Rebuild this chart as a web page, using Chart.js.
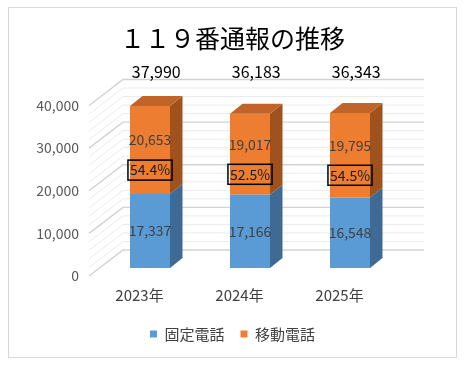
<!DOCTYPE html>
<html>
<head>
<meta charset="utf-8">
<script src="https://cdn.jsdelivr.net/npm/chart.js@4.4.1/dist/chart.umd.min.js"></script>
<style>
  html, body { margin: 0; padding: 0; background: #fff; }
</style>
</head>
<body>
<canvas id="chart" width="465" height="365"></canvas>
<script>
const years = ["2023年", "2024年", "2025年"]
const fixedCalls = [17337, 17166, 16548]
const mobileCalls = [20653, 19017, 19795]
const totals = [37990, 36183, 36343]
const mobileShare = ["54.4%", "52.5%", "54.5%"]
const yTicks = [0, 10000, 20000, 30000, 40000]

const family = "'Noto Sans CJK JP', 'Noto Sans', sans-serif"
const fmt = n => n.toLocaleString("en-US")

// fake 3d: depth of the bar faces
const DX = 12.5, DY = -10
let sideColors = ["#3e6a94", "#a0521c"]
let topColor = "#c2642a"

function poly(ctx, pts) {
	ctx.beginPath()
	ctx.moveTo(pts[0][0], pts[0][1])
	for(let i=1; i<pts.length; i++) {
		ctx.lineTo(pts[i][0], pts[i][1])
	}
	ctx.closePath()
	ctx.fill()
}

let frame = {
	id: "frame",
	beforeDraw(chart) {
		let ctx = chart.ctx
		ctx.save()
		ctx.fillStyle = "#fff"
		ctx.fillRect(0, 0, chart.width, chart.height)
		ctx.strokeStyle = "#d9d9d9"
		ctx.lineWidth = 1
		ctx.strokeRect(8.5, 7.5, 448, 350)
		ctx.restore()
	},
	// back wall + side wall grid
	beforeDatasetsDraw(chart) {
		let {ctx, chartArea: a, scales: {y}} = chart
		let backL = a.left + 23, backR = a.right + 24, frontL = a.left - 11
		ctx.save()
		for(let v=0; v<=y.max; v+=2000) {
			let p = y.getPixelForValue(v)
			let major = v % 10000 === 0
			ctx.strokeStyle = major ? "#d2d2d2" : "#ebebeb"
			ctx.lineWidth = major ? 1.4 : 1
			ctx.beginPath()
			ctx.moveTo(frontL, p + 8)
			ctx.lineTo(backL, p - 18)
			ctx.lineTo(backR, p - 18)
			ctx.stroke()
		}
		ctx.restore()
	},
	afterDatasetsDraw(chart) {
		let {ctx, chartArea: a} = chart
		let last = chart.data.datasets.length - 1
		ctx.save()
		chart.data.datasets.forEach(function(ds, di) {
			chart.getDatasetMeta(di).data.forEach(function(bar) {
				let {x, y, base, width} = bar.getProps(["x", "y", "base", "width"], true)
				let l = x - width / 2, r = x + width / 2
				ctx.fillStyle = sideColors[di]
				poly(ctx, [[r, y], [r + DX, y + DY], [r + DX, base + DY], [r, base]])
				if(di === last) {
					ctx.fillStyle = topColor
					poly(ctx, [[l, y], [l + DX, y + DY], [r + DX, y + DY], [r, y]])
				}
			})
		})
		// labels
		ctx.textAlign = "center"
		ctx.textBaseline = "middle"
		let fixedMeta = chart.getDatasetMeta(0).data
		let mobileMeta = chart.getDatasetMeta(1).data
		for(let i=0; i<years.length; i++) {
			let b = fixedMeta[i], m = mobileMeta[i]
			ctx.fillStyle = "#404040"
			ctx.font = "14px " + family
			ctx.fillText(fmt(fixedCalls[i]), b.x, (b.y + b.base) / 2)
			let mc = (m.y + m.base) / 2
			ctx.fillText(fmt(mobileCalls[i]), m.x, mc - 10)
			// share box
			let tw = ctx.measureText(mobileShare[i]).width
			let bw = Math.max(tw + 4, 36)
			ctx.fillStyle = "#1a1a1a"
			ctx.fillText(mobileShare[i], m.x, mc + 20)
			ctx.strokeStyle = "#000"
			ctx.lineWidth = 1.5
			ctx.strokeRect(m.x - bw / 2, mc + 10, bw, 20)
			// totals
			ctx.fillStyle = "#000"
			ctx.font = "16px " + family
			ctx.fillText(fmt(totals[i]), m.x + DX / 2, a.top - 26)
		}
		ctx.restore()
	},
}

new Chart(document.getElementById("chart"), {
	type: "bar",
	data: {
		labels: years,
		datasets: [{
			label: "固定電話",
			data: fixedCalls,
			backgroundColor: "#5b9bd5",
			borderWidth: 0,
		}, {
			label: "移動電話",
			data: mobileCalls,
			backgroundColor: "#ed7d31",
			borderWidth: 0,
		}],
	},
	options: {
		responsive: false,
		animation: false,
		events: [],
		barPercentage: 0.5,
		categoryPercentage: 0.8,
		layout: {padding: {left: 0, right: 0, top: 0, bottom: 13.5}},
		plugins: {
			tooltip: {enabled: false},
			title: {
				display: true,
				text: "１１９番通報の推移",
				color: "#000",
				font: {family: family, size: 25, weight: "normal"},
				padding: {top: 23, bottom: 44.5},
			},
			legend: {
				position: "bottom",
				labels: {
					boxWidth: 7,
					boxHeight: 7,
					padding: 16,
					color: "#404040",
					font: {family: family, size: 15},
				},
			},
		},
		scales: {
			x: {
				stacked: true,
				grid: {display: false, drawTicks: false},
				border: {display: false},
				ticks: {
					padding: 18,
					labelOffset: -10.5,
					color: "#404040",
					font: {family: family, size: 15},
				},
				afterFit(s) { s.height = 42.5 },
			},
			y: {
				stacked: true,
				min: 0,
				max: 40000,
				grid: {display: false, drawTicks: false},
				border: {display: false},
				ticks: {
					padding: 21,
					labelOffset: 8,
					color: "#595959",
					font: {family: family, size: 14},
					callback: v => fmt(v),
				},
				afterBuildTicks(s) { s.ticks = yTicks.map(v => ({value: v})) },
				afterFit(s) { s.width = 100 },
			},
			// empty right axis, only reserves room for the 3d depth
			yr: {
				position: "right",
				grid: {display: false, drawTicks: false},
				border: {display: false},
				ticks: {display: false},
				afterFit(s) { s.width = 65 },
			},
		},
	},
	plugins: [frame],
})
</script>
</body>
</html>
